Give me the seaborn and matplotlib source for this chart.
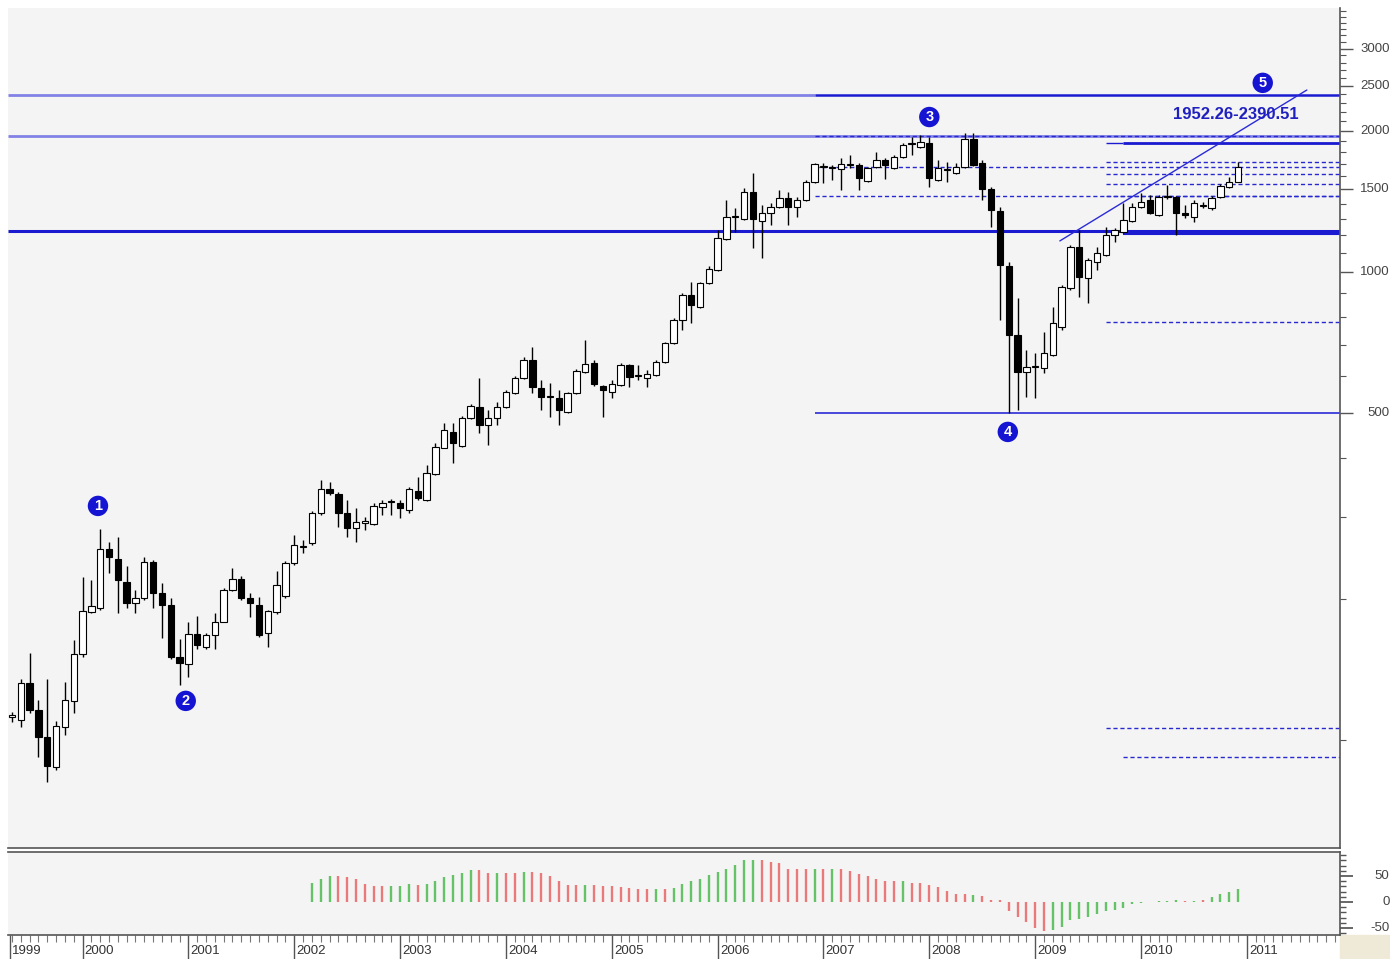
import numpy as np
import pandas as pd
import matplotlib
matplotlib.use('Agg')
import matplotlib.pyplot as plt
import seaborn as sns
from matplotlib.transforms import blended_transform_factory
from matplotlib.patches import Rectangle
from matplotlib.ticker import FixedLocator, NullFormatter

# ---------------- data (monthly candles, May 1999 .. Dec 2010) ----------------
opens = [112, 110.6, 132.6, 116.1, 101.7, 87.8, 106.8, 121.4, 152.9, 188,
         191.8, 256.3, 244, 217.9, 196.5, 201.5, 240.3, 206.4, 194.6, 150.6,
         145.6, 168.7, 158.3, 168, 179, 209.5, 221.1, 201.5, 194.6, 169.5,
         188, 203.4, 239, 258.8, 263.8, 305.8, 344, 335.6, 305.8, 284,
         291, 289.5, 315, 323, 321.3, 310.5, 340.6, 326.3, 371, 421.5,
         456, 426, 488, 515, 471.5, 488, 515, 552, 594, 649,
         565, 541, 538, 502.5, 552, 612, 640, 571, 554.5, 573.5,
         633.5, 600, 594, 603, 642.5, 705.5, 790, 893, 842, 947.5,
         1010, 1176, 1311, 1298, 1482, 1285, 1337, 1377, 1439, 1377,
         1425, 1557, 1676, 1668, 1660, 1692, 1692, 1565, 1676, 1734,
         1668, 1760, 1877, 1850, 1886, 1572, 1650, 1627, 1676, 1922,
         1709, 1504, 1349, 1030, 734, 611.5, 627, 624, 665, 762.5,
         924, 1131, 971, 1050, 1088, 1199, 1217, 1285, 1377, 1425,
         1323, 1446, 1446, 1337, 1311, 1384, 1370, 1446, 1519, 1557]
highs = [115, 135.2, 153.7, 122, 135.2, 110, 133.3, 163.9, 223.3, 220,
         282.8, 265, 271.8, 235.8, 209.5, 246.4, 243, 216.8, 201.5, 164.7,
         179, 184.4, 169.5, 187, 211, 233.5, 224, 206.4, 202.5, 190,
         230, 241.6, 274.5, 267.5, 308.7, 359.8, 356.5, 339, 326.3, 313.5,
         299.8, 321.5, 326.3, 328, 326.3, 348, 365, 387.3, 431.5, 476,
         476, 492.5, 522, 594, 507.5, 527.5, 560, 599.5, 658, 692,
         588, 580, 560, 554.5, 620.5, 716, 649, 573.5, 588, 640,
         636.5, 633.5, 617.5, 649, 709, 797.5, 902, 952, 952, 1030,
         1229, 1425, 1370, 1512, 1627, 1390, 1404, 1497, 1482, 1446,
         1572, 1709, 1709, 1692, 1752, 1778, 1709, 1676, 1804, 1752,
         1778, 1886, 1943, 1962, 1943, 1734, 1717, 1709, 1981, 1981,
         1734, 1519, 1377, 1050, 880, 681.5, 672, 745, 842, 937.5,
         1142, 1229, 1071, 1131, 1248, 1242, 1404, 1404, 1475, 1461,
         1461, 1534, 1454, 1390, 1425, 1411, 1454, 1542, 1596, 1717]
lows = [109.5, 106.8, 114.4, 92.2, 81.6, 86.5, 102.7, 114.4, 151, 187,
        190, 227.8, 187, 191.8, 187, 199.5, 191.8, 165.5, 149, 131.3,
        136.5, 157, 157, 157, 179, 208, 199.5, 183.5, 166, 158.3,
        186, 201.5, 236.9, 251, 261.3, 302.9, 334, 285.5, 271.8, 265,
        281, 288, 302.9, 303, 298.5, 305.8, 326.3, 324.5, 369, 420,
        391.3, 423, 486, 453, 427, 471.5, 512.5, 549, 591, 552,
        507.5, 490.5, 471.5, 500, 549, 609, 571, 490.5, 538, 571,
        568, 588, 568, 600, 640, 702, 752, 778.5, 838, 943,
        1005, 1170, 1217, 1292, 1125, 1071, 1260, 1370, 1260, 1311,
        1418, 1550, 1550, 1572, 1497, 1668, 1497, 1557, 1668, 1580,
        1660, 1752, 1778, 1841, 1519, 1565, 1557, 1619, 1668, 1684,
        1425, 1248, 790, 500, 507.5, 541, 538, 609, 662, 752,
        916, 884.5, 858.5, 1010, 1082, 1159, 1211, 1279, 1370, 1330,
        1318, 1432, 1199, 1304, 1279, 1370, 1356, 1439, 1512, 1557]
closes = [113, 132.6, 116.1, 101.7, 88.2, 107.3, 122, 152.9, 189, 193.6,
          256.3, 246.4, 220, 196.5, 201.5, 240.3, 206.4, 194.6, 150.6, 146.3,
          168.7, 159.9, 168, 179, 209.5, 221.1, 201.5, 196.5, 168, 189,
          214.6, 239, 261.3, 260, 305.8, 344, 337.3, 305.8, 284, 292.5,
          294, 316.8, 321.3, 324, 313.5, 344, 329.5, 372.5, 423, 460,
          431.5, 488, 517.5, 471.5, 488, 515, 554.5, 594, 649, 568,
          541, 543.5, 507.5, 552, 614.5, 636.5, 576.5, 560, 576.5, 633.5,
          597, 603, 605.5, 642.5, 705.5, 790, 893, 850.5, 947.5, 1015,
          1182, 1311, 1318, 1482, 1298, 1337, 1377, 1439, 1377, 1425,
          1557, 1701, 1684, 1676, 1701, 1701, 1588, 1668, 1734, 1692,
          1760, 1868, 1886, 1895, 1588, 1668, 1660, 1676, 1922, 1692,
          1504, 1356, 1035, 734, 611.5, 627, 630, 672, 778.5, 929,
          1131, 976, 1061, 1098, 1199, 1229, 1292, 1377, 1411, 1337,
          1446, 1454, 1337, 1323, 1404, 1390, 1439, 1527, 1557, 1676]

# oscillator histogram (starts at candle index 34)
hist_start = 34
hist_vals = [37, 45, 50, 50, 48, 44, 35, 31, 31, 31,
             31, 35, 33, 35, 40, 48, 51, 56, 61, 61,
             56, 56, 56, 55, 58, 58, 56, 50, 40, 33,
             33, 33, 33, 31, 31, 29, 27, 24, 24, 24,
             24, 27, 35, 40, 45, 51, 58, 64, 71, 80,
             81, 80, 76, 74, 64, 63, 63, 63, 63, 63,
             63, 60, 53, 49, 45, 40, 40, 40, 37, 37,
             32, 28, 21, 16, 15, 14, 11, 4.5, 3, -17,
             -29, -38, -51, -55, -53, -48, -35, -32, -29, -24,
             -18, -15, -11, -3, -2, 0, 1, 2, 3, 2,
             2, 3, 10, 15, 19, 24]
hist_dirs = ("gggrrrrrrg" "ggrggggggr" "rgrrgrrrrr" "rgrrrrrrrg" "rggggggggg"
             "grrrrrrgrg" "rrrrrrrgrr" "rrrrrgrrrr" "rrrrgggggg" "gggggggggr" "grgggg")

year_labels = ['1999', '2000', '2001', '2002', '2003', '2004', '2005',
               '2006', '2007', '2008', '2009', '2010', '2011']
price_ticks = [500, 1000, 1500, 2000, 2500, 3000]
osc_ticks = [50, 0, -50]

# wave labels: (label, month index, price)
wave_labels = ['1', '2', '3', '4', '5']
wave_x = [9.75, 19.7, 104, 112.9, 141.8]
wave_y = [316.6, 121.4, 2142, 455.5, 2534]

target_text = '1952.26-2390.51'
level_hi = 2390.51
level_lo = 1952.26
level_mid = 1223
level_bottom = 500
dashed_from_top = [1952.26, 1676, 1453]
dashed_recent = [1717, 1619, 1541, 1453, 782, 106]
dashed_recent2 = [92]
solid_recent = [1885, 1206]
trend_x = [118.8, 146.8]
trend_y = [1165, 2446]

# ---------------- styling ----------------
sns.set_theme(style='white')
plt.rcParams['font.family'] = ['Liberation Sans', 'DejaVu Sans']

W, H = 1390, 959
fig = plt.figure(figsize=(W / 100, H / 100), dpi=100, facecolor='white')
ax = fig.add_axes([8 / W, (H - 848) / H, 1332 / W, 840 / H])
ax2 = fig.add_axes([8 / W, (H - 935) / H, 1332 / W, 83 / H])
bg = '#f4f4f4'
ax.set_facecolor(bg)
ax2.set_facecolor(bg)
fig.patches.append(Rectangle((1340 / W, 0), 50 / W, 24 / H, transform=fig.transFigure,
                             color='#efe9d8', zorder=-1))

XMIN, XMAX = -0.45, 150.56
BLUE = '#1a1ad0'
LIGHT = '#8282e6'

df = pd.DataFrame({'o': opens, 'h': highs, 'l': lows, 'c': closes})
df['x'] = np.arange(len(df))
up = df['c'] >= df['o']
bottom = np.minimum(df['o'], df['c'])
top = np.maximum(df['o'], df['c'])

# horizontal levels
ax.hlines(level_hi, XMIN, 91, color=LIGHT, lw=2.0, zorder=1)
ax.hlines(level_hi, 91, XMAX, color=BLUE, lw=1.8, zorder=1)
ax.hlines(level_lo, XMIN, XMAX, color=LIGHT, lw=2.0, zorder=1)
ax.hlines(level_mid, XMIN, XMAX, color=BLUE, lw=2.2, zorder=1)
ax.hlines(level_bottom, 91, XMAX, color='#2a2ad8', lw=1.2, zorder=1)
for v in dashed_from_top:
    ax.hlines(v, 91, XMAX, color='#2828d0', lw=1.0, linestyles=(0, (3, 2)), zorder=1)
for v in dashed_recent:
    ax.hlines(v, 124, XMAX, color='#2828d0', lw=1.0, linestyles=(0, (3, 2)), zorder=1)
for v in dashed_recent2:
    ax.hlines(v, 126, XMAX, color='#2828d0', lw=1.0, linestyles=(0, (3, 2)), zorder=1)
ax.hlines(solid_recent[0], 124, 126, color=BLUE, lw=1.0, zorder=1)
ax.hlines(solid_recent[0], 126, XMAX, color=BLUE, lw=2.0, zorder=1)
ax.hlines(solid_recent[1], 126, XMAX, color=BLUE, lw=1.5, zorder=1)

# trend line
sns.lineplot(x=trend_x, y=trend_y, ax=ax, color='#2a2ad8', lw=1.0, zorder=2)

# candles
ax.vlines(df['x'], df['l'], df['h'], color='black', lw=1.0, zorder=3)
ax.bar(df['x'], top - bottom, bottom=bottom, width=0.72,
       color=np.where(up, 'white', 'black'), edgecolor='black', linewidth=0.8, zorder=4)

# wave labels
for lab, x, y in zip(wave_labels, wave_x, wave_y):
    ax.text(x, y, lab, ha='center', va='center', color='white', fontsize=10.5, fontweight='bold',
            bbox=dict(boxstyle='circle,pad=0.22', fc='#1414d2', ec='none'), zorder=6)
ax.text(138.8, 2164, target_text, ha='center', va='center', color='#2020c0',
        fontsize=12, fontweight='bold', zorder=6)

ax.set_yscale('log')
ax.set_xlim(XMIN, XMAX)
ax.set_ylim(58.9, 3661)
ax.set_xticks([])
ax.yaxis.tick_right()
ax.yaxis.set_major_locator(FixedLocator(price_ticks))
ax.yaxis.set_minor_locator(FixedLocator([v for v in range(100, 3700, 100) if v not in price_ticks]))
ax.yaxis.set_major_formatter(NullFormatter())
ax.yaxis.set_minor_formatter(NullFormatter())
ax.tick_params(axis='y', which='major', direction='out', length=9, width=1, color='#555555', right=True)
ax.tick_params(axis='y', which='minor', direction='out', length=4, width=0.8, color='#555555', right=True)
for s in ['left', 'top']:
    ax.spines[s].set_visible(False)
for s in ['right', 'bottom']:
    ax.spines[s].set_color('#555555')
    ax.spines[s].set_linewidth(1.2)
tr = blended_transform_factory(ax.transAxes, ax.transData)
for v in price_ticks:
    ax.text(1.0372, v, str(v), transform=tr, ha='right', va='center', fontsize=9.5, color='#444444')

# oscillator panel
hx = np.arange(hist_start, hist_start + len(hist_vals))
hcol = ['#66c266' if d == 'g' else '#ea7a7a' for d in hist_dirs]
ax2.vlines(hx, 0, hist_vals, colors=hcol, lw=1.7)
ax2.set_xlim(XMIN, XMAX)
ax2.set_ylim(-63.5, 96)
ax2.yaxis.tick_right()
ax2.yaxis.set_major_locator(FixedLocator(osc_ticks))
ax2.yaxis.set_minor_locator(FixedLocator([v for v in range(-60, 100, 10) if v not in osc_ticks]))
ax2.yaxis.set_major_formatter(NullFormatter())
ax2.tick_params(axis='y', which='major', direction='out', length=9, color='#555555', right=True)
ax2.tick_params(axis='y', which='minor', direction='out', length=4, color='#555555', right=True)
tr2 = blended_transform_factory(ax2.transAxes, ax2.transData)
for v in osc_ticks:
    ax2.text(1.0372, v, str(v), transform=tr2, ha='right', va='center', fontsize=9.5, color='#444444')

year_pos = [-0.2] + [8 + 12 * k for k in range(len(year_labels) - 1)]
ax2.xaxis.set_major_locator(FixedLocator(year_pos))
ax2.xaxis.set_minor_locator(FixedLocator(list(range(0, 151))))
ax2.xaxis.set_major_formatter(NullFormatter())
ax2.tick_params(axis='x', which='major', direction='out', length=20, width=1, color='#555555', bottom=True)
ax2.tick_params(axis='x', which='minor', direction='out', length=5, width=0.8, color='#777777', bottom=True)
trx = blended_transform_factory(ax2.transData, fig.transFigure)
for lab, p in zip(year_labels, year_pos):
    ax2.text(p + 0.25, 1 - 951 / H, lab, transform=trx, ha='left', va='center', fontsize=9.5, color='#333333')
for s in ['left']:
    ax2.spines[s].set_visible(False)
for s in ['right', 'bottom', 'top']:
    ax2.spines[s].set_color('#555555')
    ax2.spines[s].set_linewidth(1.2)

fig.savefig('out.png', dpi=100, facecolor=fig.get_facecolor())
